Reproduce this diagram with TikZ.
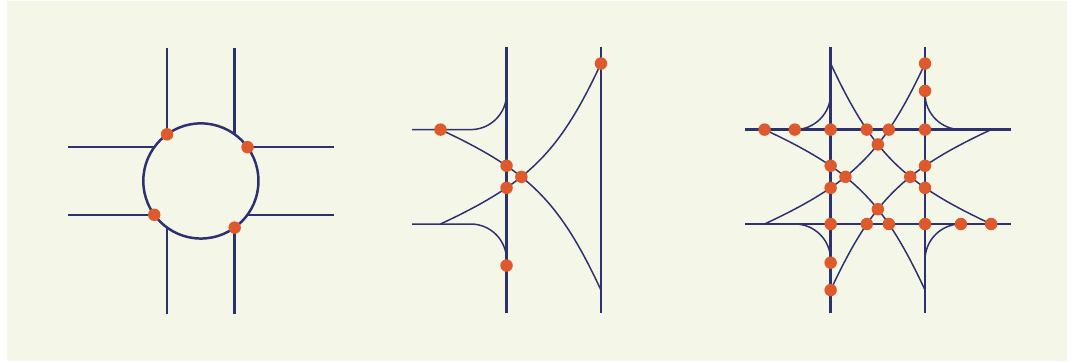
\documentclass[tikz,border=0pt]{standalone}
\usepackage{tikz}
\usetikzlibrary{calc}
\usepackage{xcolor}
\definecolor{bgcream}{HTML}{F4F7E8}
\definecolor{navy}{HTML}{2E3170}
\definecolor{dotred}{HTML}{DE5A2C}

\begin{document}
\begin{tikzpicture}[thickline/.style={navy,line width=0.75pt},
		thinline/.style={navy,line width=0.45pt},
		reddot/.style={fill=dotred}]
		% Frame
		\useasboundingbox (0,0) rectangle (11.377,-3.845);
		\fill[bgcream] (0.074,-0.011) rectangle (11.303,-3.824);
		
		% Circle with four roads
		\begin{scope}[shift={(2.128,-1.917)}]
			\draw[thickline] (0,0) circle (0.61);
			\foreach \s in {-0.358,0.358} {
				\draw[thickline] (\s,1.41) -- (\s,0.494);
				\draw[thickline] (\s,-0.494) -- (\s,-1.41);
				\draw[thickline] (-1.41,\s) -- (-0.494,\s);
				\draw[thickline] (0.494,\s) -- (1.41,\s);
			}
			\foreach \p in {(-0.358,0.494),(0.494,0.358),(-0.494,-0.358),(0.358,-0.494)}
				\fill[reddot] \p circle (0.066);
		\end{scope}
		
		% Two strands and two cusps
		\begin{scope}[shift={(5.866,-1.873)}]
			\draw[thickline] (-0.5,1.372) -- (-0.5,-1.446);
			\draw[thickline] (0.5,1.372) -- (0.5,-1.446);
			\draw[thinline] (-1.5,0.5) -- (-0.88,0.5) arc[start angle=-90,end angle=0,radius=0.38];
			\draw[thinline] (-1.5,-0.5) -- (-0.88,-0.5) arc[start angle=90,end angle=0,radius=0.38];
			\draw[thinline] (-1.2,0.5) to[out=-25,in=115,looseness=1.1] (0.5,-1.2);
			\draw[thinline] (-1.2,-0.5) to[out=25,in=-115,looseness=1.1] (0.5,1.2);
			\foreach \p in {(-1.2,0.5),(-0.5,0.117),(-0.343,0),(-0.5,-0.117),(0.5,1.2),(-0.5,-0.94)}
				\fill[reddot] \p circle (0.066);
		\end{scope}
		
		% Full grid, four cusps
		\begin{scope}[shift={(9.299,-1.873)}]
			\foreach \s in {-0.5,0.5} {
				\draw[thickline] (\s,1.372) -- (\s,-1.446);
				\draw[thickline] (-1.407,\s) -- (1.407,\s);
			}
			\draw[thinline] (-0.88,0.5) arc[start angle=-90,end angle=0,radius=0.38];
			\draw[thinline] (0.5,0.88) arc[start angle=180,end angle=270,radius=0.38];
			\draw[thinline] (0.5,-0.88) arc[start angle=180,end angle=90,radius=0.38];
			\draw[thinline] (-0.88,-0.5) arc[start angle=90,end angle=0,radius=0.38];
			\draw[thinline] (-1.2,0.5) to[out=-25,in=115,looseness=1.1] (0.5,-1.2);
			\draw[thinline] (-1.2,-0.5) to[out=25,in=-115,looseness=1.1] (0.5,1.2);
			\draw[thinline] (1.2,-0.5) to[out=155,in=-65,looseness=1.1] (-0.5,1.2);
			\draw[thinline] (1.2,0.5) to[out=-155,in=65,looseness=1.1] (-0.5,-1.2);
			\foreach \x in {-0.5,-0.117,0.117,0.5}
				\foreach \y in {-0.5,0.5} {
					\fill[reddot] (\x,\y) circle (0.066);
				}
			\foreach \p in {(-0.5,0.117),(-0.5,-0.117),(0.5,0.117),(0.5,-0.117),
				(0,0.343),(0,-0.343),(0.343,0),(-0.343,0),
				(-1.2,0.5),(-0.88,0.5),(0.5,1.2),(0.5,0.91),
				(1.2,-0.5),(0.88,-0.5),(-0.5,-1.2),(-0.5,-0.91)}
				\fill[reddot] \p circle (0.066);
		\end{scope}
	\end{tikzpicture}
\end{document}
